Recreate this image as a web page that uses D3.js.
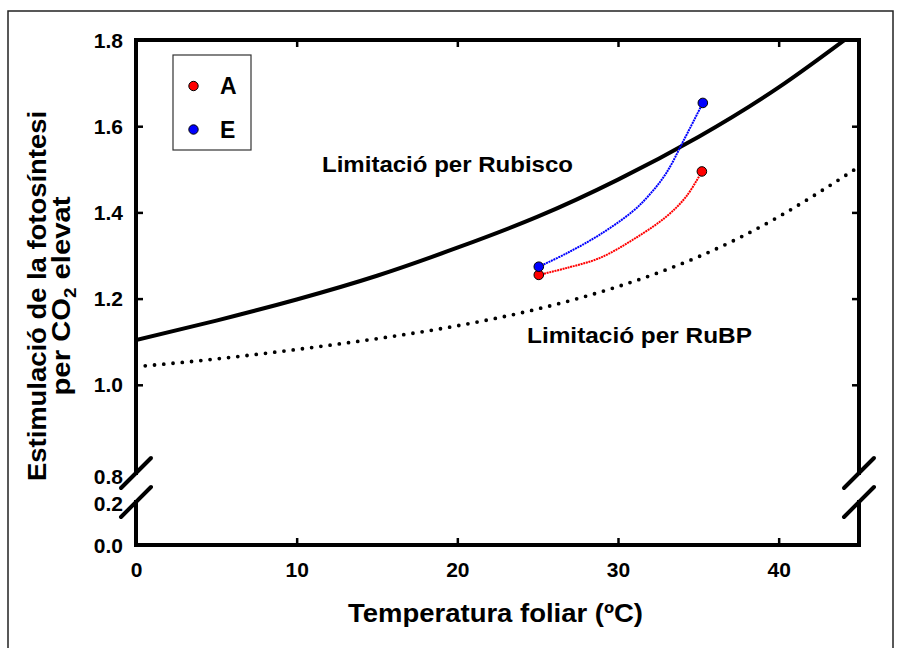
<!DOCTYPE html>
<html>
<head>
<meta charset="utf-8">
<script src="https://cdn.jsdelivr.net/npm/d3@7"></script>
<style>
  html, body { margin: 0; padding: 0; background: #fff; }
  svg { display: block; font-family: "Liberation Sans", Arial, Helvetica, sans-serif; font-weight: bold; }
</style>
</head>
<body>
<svg id="chart" width="905" height="648"></svg>
<script>
// Leaf temperature (ºC) at which the model curves are given
const temps = [0, 5, 10, 15, 20, 25, 30, 35, 40, 45];
// Stimulation of photosynthesis by elevated CO2 under Rubisco limitation
const rubisco = [1.104, 1.149, 1.198, 1.253, 1.318, 1.39, 1.476, 1.575, 1.69, 1.825];
// Stimulation under RuBP-regeneration limitation
const rubp = [1.042, 1.060, 1.082, 1.107, 1.137, 1.176, 1.228, 1.297, 1.39, 1.506];

// Series A
const aTemps = [25.07, 26.8, 28.85, 30.9, 33.0, 34.25, 35.22];
const aValues = [1.255, 1.271, 1.294, 1.336, 1.39, 1.437, 1.495];
// Series E
const eTemps = [25.07, 26.8, 28.85, 30.9, 31.96, 33.0, 34.1, 35.28];
const eValues = [1.274, 1.305, 1.348, 1.402, 1.441, 1.491, 1.568, 1.654];

const xTicks = [0, 10, 20, 30, 40];
const yTicksUpper = [0.8, 1.0, 1.2, 1.4, 1.6, 1.8];
const yTicksLower = [0.0, 0.2];
const legendItems = [
  { name: "A", color: "#ff0000" },
  { name: "E", color: "#0000ff" }
];

const svg = d3.select("#chart");

// outer frame
svg.append("rect")
  .attr("x", 8).attr("y", 11).attr("width", 885).attr("height", 660)
  .attr("fill", "none").attr("stroke", "#222").attr("stroke-width", 1.5);

const pLeft = 136, pRight = 859, pTop = 40, pBottom = 545;
const breakUpper = 473, breakLower = 502;

const x = d3.scaleLinear().domain([0, 45]).range([pLeft, pRight]);
const yUp = d3.scaleLinear().domain([0.8, 1.8]).range([471, pTop]);
const yLow = d3.scaleLinear().domain([0, 0.2]).range([pBottom, 503]);

// clip for curves inside the upper panel
svg.append("clipPath").attr("id", "plotClip")
  .append("rect").attr("x", pLeft).attr("y", pTop).attr("width", pRight - pLeft).attr("height", breakUpper - pTop);

// ---- axes ----
const tickLen = 7;
const axisFont = 21;

const gx = svg.append("g").attr("transform", `translate(0,${pBottom})`)
  .call(d3.axisBottom(x).tickValues(xTicks).tickFormat(d3.format("d")).tickSize(-tickLen).tickPadding(17));
const gxTop = svg.append("g").attr("transform", `translate(0,${pTop})`)
  .call(d3.axisTop(x).tickValues(xTicks).tickFormat("").tickSize(-tickLen));
const gyUp = svg.append("g").attr("transform", `translate(${pLeft},0)`)
  .call(d3.axisLeft(yUp).tickValues(yTicksUpper).tickFormat(d3.format(".1f")).tickSize(-tickLen).tickPadding(13));
const gyLow = svg.append("g").attr("transform", `translate(${pLeft},0)`)
  .call(d3.axisLeft(yLow).tickValues(yTicksLower).tickFormat(d3.format(".1f")).tickSize(-tickLen).tickPadding(13));
const gyRight = svg.append("g").attr("transform", `translate(${pRight},0)`)
  .call(d3.axisRight(yUp).tickValues(yTicksUpper).tickFormat("").tickSize(-tickLen));

[gx, gxTop, gyUp, gyLow, gyRight].forEach(g => {
  g.select(".domain").remove();
  g.selectAll(".tick line").attr("stroke", "#000").attr("stroke-width", 2.5);
  g.selectAll(".tick text").attr("fill", "#000")
    .style("font-size", axisFont + "px").style("font-weight", "bold")
    .style("font-family", "'Liberation Sans', Arial, sans-serif");
});
// no tick marks at the break or at the corner
gyUp.selectAll(".tick").filter(d => d === 0.8).select("line").remove();
gyRight.selectAll(".tick").filter(d => d === 0.8).select("line").remove();
gyLow.selectAll(".tick line").remove();
gx.selectAll(".tick").filter(d => d === 0).select("line").remove();
gxTop.selectAll(".tick").filter(d => d === 0).select("line").remove();
gyUp.selectAll(".tick text").attr("dy", "0.34em");
gyLow.selectAll(".tick text").attr("dy", "0.34em");
// the 0.8 label sits just under the break mark
gyUp.selectAll(".tick").filter(d => d === 0.8).select("text").attr("dy", "0.6em");

// frame lines with the broken y axis
const frame = svg.append("g").attr("stroke", "#000").attr("stroke-width", 4)
  .attr("fill", "none").attr("stroke-linecap", "square");
frame.append("path").attr("d", `M${pLeft},${breakUpper} L${pLeft},${pTop} L${pRight},${pTop} L${pRight},${breakUpper}`);
frame.append("path").attr("d", `M${pLeft},${breakLower} L${pLeft},${pBottom} L${pRight},${pBottom} L${pRight},${breakLower}`);

// break marks
const slash = svg.append("g").attr("stroke", "#000").attr("stroke-width", 4).attr("stroke-linecap", "round");
[pLeft, pRight].forEach(cx => {
  [breakUpper, breakLower].forEach(cy => {
    slash.append("line")
      .attr("x1", cx - 15).attr("y1", cy + 15)
      .attr("x2", cx + 15).attr("y2", cy - 15);
  });
});

// ---- curves ----
const plot = svg.append("g").attr("clip-path", "url(#plotClip)");
const smooth = d3.line().x(d => x(d[0])).y(d => yUp(d[1])).curve(d3.curveNatural);
const thin = d3.line().x(d => x(d[0])).y(d => yUp(d[1])).curve(d3.curveCatmullRom.alpha(0.5));

plot.append("path")
  .datum(temps.map((t, i) => [t, rubisco[i]]))
  .attr("d", smooth).attr("fill", "none").attr("stroke", "#000").attr("stroke-width", 4);

plot.append("path")
  .datum(temps.map((t, i) => [t, rubp[i]]))
  .attr("d", smooth).attr("fill", "none").attr("stroke", "#000").attr("stroke-width", 3.8)
  .attr("stroke-linecap", "round").attr("stroke-dasharray", "0 9.3");

const seriesList = [
  { t: aTemps, v: aValues, color: "#ff0000" },
  { t: eTemps, v: eValues, color: "#0000ff" }
];
seriesList.forEach(s => {
  plot.append("path")
    .datum(s.t.map((t, i) => [t, s.v[i]]))
    .attr("d", thin).attr("fill", "none").attr("stroke", s.color)
    .attr("stroke-width", 2).attr("stroke-dasharray", "2 0.7");
});
seriesList.forEach(s => {
  const ends = [0, s.t.length - 1];
  svg.selectAll(null).data(ends).enter().append("circle")
    .attr("cx", i => x(s.t[i])).attr("cy", i => yUp(s.v[i]))
    .attr("r", 4.8).attr("fill", s.color).attr("stroke", "#000").attr("stroke-width", 1);
});

// ---- curve labels ----
svg.append("text").attr("x", 322).attr("y", 172)
  .attr("textLength", 251).attr("lengthAdjust", "spacingAndGlyphs")
  .style("font-size", "22px").text("Limitació per Rubisco");
svg.append("text").attr("x", 527).attr("y", 343)
  .attr("textLength", 225).attr("lengthAdjust", "spacingAndGlyphs")
  .style("font-size", "22px").text("Limitació per RuBP");

// ---- legend ----
const legend = svg.append("g");
legend.append("rect").attr("x", 173).attr("y", 55).attr("width", 78).attr("height", 95)
  .attr("fill", "#fff").attr("stroke", "#333").attr("stroke-width", 1.2);
legendItems.forEach((d, i) => {
  const cy = 86 + i * 43.5;
  legend.append("circle").attr("cx", 193.5).attr("cy", cy).attr("r", 4.7)
    .attr("fill", d.color).attr("stroke", "#000").attr("stroke-width", 1);
  legend.append("text").attr("x", 220).attr("y", cy + 8)
    .style("font-size", "23px").text(d.name);
});

// ---- axis titles ----
svg.append("text").attr("x", 495.5).attr("y", 622).attr("text-anchor", "middle")
  .attr("textLength", 295).attr("lengthAdjust", "spacingAndGlyphs")
  .style("font-size", "25px").text("Temperatura foliar (ºC)");

const yTitle = svg.append("g").attr("transform", "translate(0,296) rotate(-90)");
yTitle.append("text").attr("x", 0).attr("y", 46).attr("text-anchor", "middle")
  .attr("textLength", 370).attr("lengthAdjust", "spacingAndGlyphs")
  .style("font-size", "25px").text("Estimulació de la fotosíntesi");
const t2 = yTitle.append("text").attr("x", 0).attr("y", 70).attr("text-anchor", "middle")
  .attr("textLength", 199).attr("lengthAdjust", "spacingAndGlyphs")
  .style("font-size", "25px");
t2.append("tspan").text("per CO");
t2.append("tspan").attr("dy", 6).style("font-size", "16px").text("2");
t2.append("tspan").attr("dy", -6).text(" elevat");
</script>
</body>
</html>
